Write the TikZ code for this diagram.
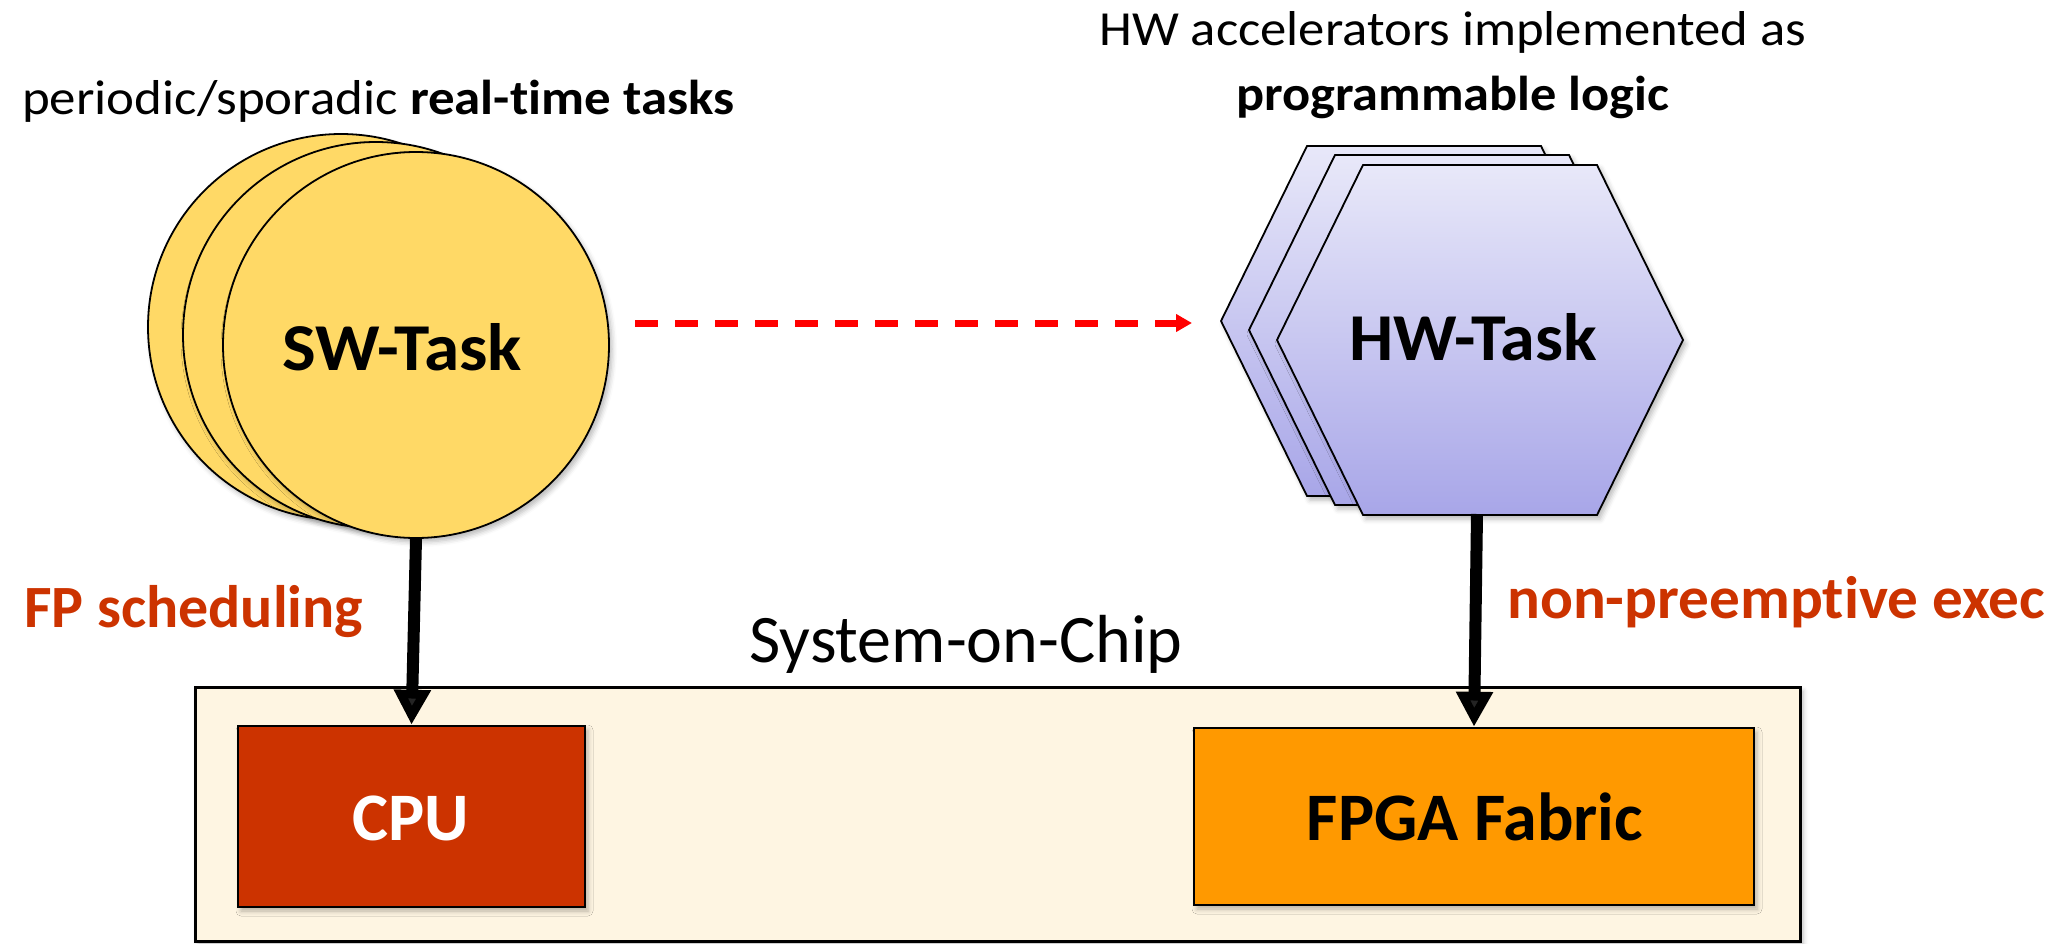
\documentclass[tikz,border=0pt]{standalone}
\usepackage{fontspec}
\setmainfont{Carlito}[Ligatures=NoCommon]
\usetikzlibrary{arrows.meta,shadows.blur}

\definecolor{taskyellow}{RGB}{255,217,102}
\definecolor{hextop}{RGB}{232,232,249}
\definecolor{hexbot}{RGB}{168,166,232}
\definecolor{socfill}{RGB}{254,245,226}
\definecolor{cpured}{RGB}{204,51,0}
\definecolor{fpgaorange}{RGB}{255,153,0}
\definecolor{notered}{RGB}{204,51,0}
\definecolor{flowred}{RGB}{255,0,0}

\newcommand\fsz[1]{\fontsize{#1pt}{#1pt}\selectfont}
% horizontally widened text
\newcommand\wide[2]{\scalebox{#1}[1]{#2}}
% text set to a given width, height kept
\newcommand\fitwidth[2]{\resizebox{#1}{\height}{#2}}

\begin{document}
\begin{tikzpicture}[x=1pt,y=-1pt,
  softshadow/.style={blur shadow={shadow xshift=3pt,shadow yshift=-4pt,
      shadow blur radius=5pt,shadow opacity=28}},
  swdisc/.style={circle,draw=black,line width=1.8pt,fill=taskyellow,
      minimum size=386pt,inner sep=0pt,softshadow},
  hexface/.style={draw=black,line width=1.8pt,top color=hextop,
      bottom color=hexbot,softshadow},
  tasklabel/.style={anchor=base,inner sep=0pt,font=\fsz{67}\bfseries},
  unitlabel/.style={anchor=base,inner sep=0pt,font=\fsz{68}\bfseries},
  toplabel/.style={anchor=base west,inner sep=0pt,font=\fsz{49}},
  notelabel/.style={anchor=base west,inner sep=0pt,font=\fsz{60}\bfseries,
      text=notered},
  unitbox/.style={draw=black,line width=2.5pt,inner sep=0pt,softshadow},
  pusharrow/.style={line width=12pt,-{Triangle[width=35pt,length=35pt]}},
  flowarrow/.style={draw=flowred,line width=7pt,dash pattern=on 23pt off 17pt,
      -{Triangle[width=17pt,length=16pt]}}]

\useasboundingbox (0,0) rectangle (2061,943);

% captions above the tasks
\node[toplabel] (swcap) at (22,114)
  {\wide{1.08}{periodic/sporadic \textbf{real-time tasks}}};
\node[toplabel] (hwcap1) at (1099,45)
  {\wide{1.075}{HW accelerators implemented as}};
\node[toplabel] (hwcap2) at (1236,110)
  {\wide{1.069}{\textbf{programmable logic}}};

% stack of software tasks
\node[swdisc] (swback) at (341,327) {};
\node[swdisc] (swmid) at (376,335) {};
\node[swdisc] (swfront) at (416,345) {};
\node[tasklabel] (swtext) at (402,370) {\wide{1.063}{SW-Task}};

% stack of hardware tasks
\foreach \dx/\dy in {-56/-19,-28/-10,0/0}
  \path[hexface,shift={(1480+\dx,340+\dy)}]
    (-203,0) -- (-117,-175) -- (117,-175) -- (203,0)
    -- (117,175) -- (-117,175) -- cycle;
\coordinate (hwbottom) at (1477,514);
\node[tasklabel] (hwtext) at (1473,360) {\wide{1.046}{HW-Task}};

% system-on-chip with its two processing units
\node[unitbox,fill=socfill,line width=3pt,minimum width=1605pt,
  minimum height=254pt] (soc) at (997.5,814) {};
\node[unitbox,fill=cpured,minimum width=347pt,minimum height=181pt]
  (cpu) at (411.5,816.5) {};
\node[unitlabel,text=white] (cputext) at (411,840) {CPU};
\node[unitbox,fill=fpgaorange,minimum width=560pt,minimum height=177pt]
  (fpga) at (1474,816.5) {};
\node[unitlabel] (fpgatext) at (1475,840) {FPGA Fabric};

\node[anchor=base,inner sep=0pt,font=\fsz{68}] (soctext) at (966,662)
  {System-on-Chip};

% mapping annotations
\node[notelabel] (fpnote) at (24,627) {FP scheduling};
\node[notelabel] (npnote) at (1507,618)
  {\fitwidth{538pt}{non-preemptive exec}};

% connectors
\draw[pusharrow] (swfront.south) -- (cpu.north);
\draw[pusharrow] (hwbottom) -- (fpga.north);

\coordinate (flowstart) at (635,323);
\coordinate (flowend) at (1192,323);
\draw[flowarrow] (flowstart) -- (flowend);

\end{tikzpicture}
\end{document}
